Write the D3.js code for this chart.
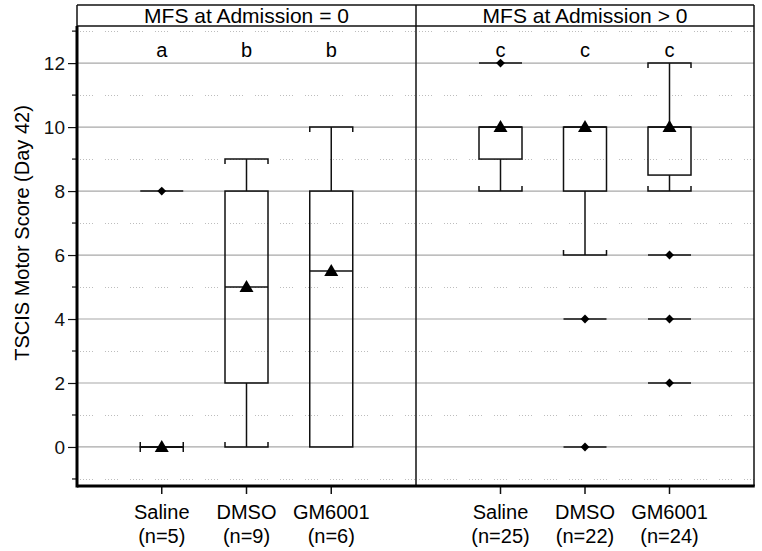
<!DOCTYPE html>
<html><head><meta charset="utf-8">
<script src="https://cdn.jsdelivr.net/npm/d3@7"></script>
<style>body{margin:0;background:#fff}svg{display:block;font-family:"Liberation Sans",Arial,sans-serif}</style>
</head><body><div id="chart"></div>
<script>
const panels = ["MFS at Admission = 0", "MFS at Admission > 0"];
const groups = ["Saline", "DMSO", "GM6001"];
const nCounts = [[5, 9, 6], [25, 22, 24]];
const letters = [["a", "b", "b"], ["c", "c", "c"]];
const q1 = [[0, 2, 0], [9, 8, 8.5]];
const median = [[0, 5, 5.5], [10, 10, 10]];
const q3 = [[0, 8, 8], [10, 10, 10]];
const whiskerLow = [[0, 0, 0], [8, 6, 8]];
const whiskerHigh = [[0, 9, 10], [10, 10, 12]];
const means = [[0, 5, 5.5], [10, 10, 10]];
const outliers = [[[8], [], []], [[12], [4, 0], [6, 4, 2]]];
const majorTicks = [0, 2, 4, 6, 8, 10, 12];
const minorTicks = [-1, 1, 3, 5, 7, 9, 11, 13];
const yTitle = "TSCIS Motor Score (Day 42)";

const W = 762, H = 551;
const L = 77, R = 754, T = 5, HB = 26, B = 486, MID = 416;
const svg = d3.select("#chart").append("svg").attr("width", W).attr("height", H);
const y = d3.scaleLinear().domain([-1.22, 13.16]).range([B, HB]);
const panelX = [[L, MID], [MID, R]];
const bw = 43;

// grid
panelX.forEach(([x0, x1]) => {
  svg.append("g").selectAll("line").data(majorTicks).join("line")
    .attr("x1", x0).attr("x2", x1).attr("y1", d => y(d)).attr("y2", d => y(d))
    .attr("stroke", "#a8a8a8").attr("stroke-width", 1.2);
  svg.append("g").selectAll("line").data(minorTicks).join("line")
    .attr("x1", x0 + 3).attr("x2", x1).attr("y1", d => Math.round(y(d)) + 0.5).attr("y2", d => Math.round(y(d)) + 0.5)
    .attr("stroke", "#bdbdbd").attr("stroke-width", 1).attr("stroke-dasharray", "1,2,1,2,1,2,1,2,1,12");
});

panels.forEach((title, p) => {
  const [x0, x1] = panelX[p];
  const x = d3.scalePoint().domain(groups).range([x0, x1]).padding(1);
  const g = svg.append("g");
  g.append("text").attr("x", (x0 + x1) / 2).attr("y", 23).attr("text-anchor", "middle")
    .attr("font-size", 21).text(title);
  groups.forEach((grp, i) => {
    const cx = x(grp);
    const lo = whiskerLow[p][i], hi = whiskerHigh[p][i];
    const a = q1[p][i], b = q3[p][i];
    const degenerate = a === b;
    const sg = g.append("g").attr("stroke", "#111").attr("stroke-width", 1.5).attr("fill", "none");
    if (hi > b) sg.append("line").attr("x1", cx).attr("x2", cx).attr("y1", y(b)).attr("y2", y(hi));
    if (lo < a) sg.append("line").attr("x1", cx).attr("x2", cx).attr("y1", y(a)).attr("y2", y(lo));
    if (hi > b || degenerate) {
      sg.append("path").attr("d", `M${cx - bw / 2},${y(hi) + 5}V${y(hi)}H${cx + bw / 2}V${y(hi) + 5}`);
    }
    if (lo < a || degenerate) {
      sg.append("path").attr("d", `M${cx - bw / 2},${y(lo) - 5}V${y(lo)}H${cx + bw / 2}V${y(lo) - 5}`);
    }
    sg.append("rect").attr("x", cx - bw / 2).attr("width", bw).attr("y", y(b)).attr("height", y(a) - y(b));
    sg.append("line").attr("x1", cx - bw / 2).attr("x2", cx + bw / 2).attr("y1", y(median[p][i])).attr("y2", y(median[p][i]));
    outliers[p][i].forEach(v => {
      sg.append("line").attr("x1", cx - bw / 2).attr("x2", cx + bw / 2).attr("y1", y(v)).attr("y2", y(v));
      g.append("path").attr("d", d3.symbol(d3.symbolDiamond2, 50)()).attr("transform", `translate(${cx},${y(v)})`).attr("fill", "#000");
    });
    const ty = y(means[p][i]);
    g.append("path").attr("d", `M${cx - 7},${ty + 5}L${cx},${ty - 7}L${cx + 7},${ty + 5}Z`).attr("fill", "#000");
    g.append("text").attr("x", cx).attr("y", 57).attr("text-anchor", "middle").attr("font-size", 20).text(letters[p][i]);
    g.append("line").attr("x1", cx).attr("x2", cx).attr("y1", B).attr("y2", B + 8).attr("stroke", "#111").attr("stroke-width", 1.5);
    g.append("text").attr("x", cx).attr("y", 519).attr("text-anchor", "middle").attr("font-size", 20).text(grp);
    g.append("text").attr("x", cx).attr("y", 543).attr("text-anchor", "middle").attr("font-size", 20).text(`(n=${nCounts[p][i]})`);
  });
});

const fr = svg.append("g").attr("stroke", "#111").attr("fill", "none");
fr.append("line").attr("x1", L).attr("x2", R).attr("y1", T).attr("y2", T).attr("stroke-width", 1.5);
fr.append("line").attr("x1", L).attr("x2", R).attr("y1", HB).attr("y2", HB).attr("stroke-width", 1.5);
fr.append("line").attr("x1", L).attr("x2", L).attr("y1", T).attr("y2", HB).attr("stroke-width", 1.5);
fr.append("line").attr("x1", R).attr("x2", R).attr("y1", T).attr("y2", B).attr("stroke-width", 1.5);
fr.append("line").attr("x1", MID).attr("x2", MID).attr("y1", T).attr("y2", B).attr("stroke-width", 1.5);

const yAxis = svg.append("g").attr("transform", `translate(${L},0)`)
  .call(d3.axisLeft(y).tickValues(majorTicks).tickSize(9).tickSizeOuter(0).tickFormat(d3.format("d")));
yAxis.select(".domain").remove();
yAxis.selectAll(".tick line").attr("stroke", "#111").attr("stroke-width", 1.2);
yAxis.selectAll(".tick text").attr("font-size", 19).attr("font-family", "Liberation Sans, Arial, sans-serif").attr("fill", "#111").attr("x", -12);
svg.append("g").selectAll("line").data(minorTicks).join("line")
  .attr("x1", L - 5).attr("x2", L).attr("y1", d => y(d)).attr("y2", d => y(d)).attr("stroke", "#111").attr("stroke-width", 1.2);
svg.append("line").attr("x1", L).attr("x2", L).attr("y1", HB).attr("y2", B + 1.5).attr("stroke", "#000").attr("stroke-width", 3);
svg.append("line").attr("x1", L).attr("x2", R + 0.75).attr("y1", B).attr("y2", B).attr("stroke", "#000").attr("stroke-width", 3);

svg.append("text").attr("transform", `translate(29,${233}) rotate(-90)`).attr("text-anchor", "middle")
  .attr("font-size", 20).text(yTitle);
</script></body></html>
